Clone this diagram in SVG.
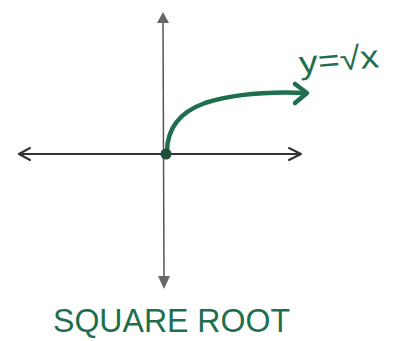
<svg xmlns="http://www.w3.org/2000/svg" width="399" height="341" viewBox="0 0 399 341">
<style>
.axis{stroke:#333;stroke-width:2;fill:none;stroke-linecap:round}
.vaxis{stroke:#555;stroke-width:1.5;fill:none}
.head{fill:#666}
.open{stroke:#333;stroke-width:2;fill:none;stroke-linecap:round;stroke-linejoin:round}
.curve{stroke:#1f6e4e;stroke-width:4.5;fill:none;stroke-linecap:round;stroke-linejoin:round}
.lbl{fill:#1f6e4e;font-family:"Liberation Sans",Arial,sans-serif}
</style>
<rect width="399" height="341" fill="#fff"/>
<g id="connectors">
<line class="vaxis" x1="163" y1="18" x2="164" y2="283"/>
<polygon class="head" points="157,23 163,12 169,23"/>
<polygon class="head" points="158,276 164,289 170,276"/>
<line class="axis" x1="19" y1="154" x2="300" y2="154"/>
<polyline class="open" points="30,148 19,154 30,160"/>
<polyline class="open" points="289,148 301,154 289,160"/>
</g>
<g id="curve">
<path class="curve" d="M167,152 C167,128 180,112 205,103 C230,95 260,91 306,93"/>
<polyline class="curve" points="295,84 307,93 295,103"/>
<circle cx="166" cy="154" r="5.5" fill="#1f4e3a"/>
</g>
<g id="label-eq">
<text class="lbl" x="300" y="74" font-size="32" textLength="80" lengthAdjust="spacingAndGlyphs" transform="rotate(-5 300 74)">y=√x</text>
</g>
<g id="label-title">
<text class="lbl" x="53" y="332" font-size="34" textLength="237" lengthAdjust="spacingAndGlyphs">SQUARE ROOT</text>
</g>
</svg>
